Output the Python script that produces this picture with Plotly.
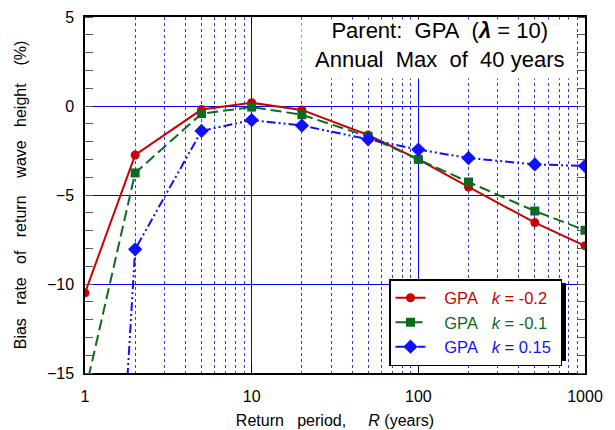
import plotly.graph_objects as go

R = [1, 2, 5, 10, 20, 50, 100, 200, 500, 1000]
red_vals = [-10.5, -2.75, -0.2, 0.18, -0.22, -1.63, -3.0, -4.55, -6.55, -7.85]
green_vals = [-16.1, -3.76, -0.43, -0.06, -0.49, -1.72, -3.0, -4.27, -5.9, -6.98]
blue_vals = [-54.7, -8.05, -1.4, -0.79, -1.1, -1.87, -2.45, -2.92, -3.28, -3.37]

x_tickvals = [1, 10, 100, 1000]
x_ticktext = ["1", "10", "100", "1000"]
x_minorvals = [m * d for d in (1, 10, 100) for m in range(2, 10)]
y_tickvals = [5, 0, -5, -10, -15]

NB = "\u00a0"
RED = "#cc0000"
GREEN = "#0b6b1e"
BLUE = "#1010ff"
GRID = "rgb(0,0,255)"


def legend_name(color, kval):
    return (f"{NB}{NB}{NB}<span style='color:{color}'>GPA{NB}{NB}{NB}<i>k</i>{NB}={NB}{kval}</span>{NB}")


fig = go.Figure()
fig.add_trace(go.Scatter(
    x=R, y=red_vals, mode="lines+markers",
    name=legend_name(RED, "-0.2"),
    line=dict(color=RED, width=2),
    marker=dict(symbol="circle", size=9, color=RED),
))
fig.add_trace(go.Scatter(
    x=R, y=green_vals, mode="lines+markers",
    name=legend_name(GREEN, "-0.1"),
    line=dict(color=GREEN, width=2, dash="11px,5px"),
    marker=dict(symbol="square", size=9, color=GREEN),
))
fig.add_trace(go.Scatter(
    x=R, y=blue_vals, mode="lines+markers",
    name=legend_name(BLUE, "0.15"),
    line=dict(color=BLUE, width=2, dash="9px,3px,2px,3px,2px,3px"),
    marker=dict(symbol="diamond", size=11, color=BLUE),
))

G4 = NB * 4
G3 = NB * 3
ytitle = (f"Bias{G3}rate{G3}of{G3}return{G4}wave{G3}height{G4}(%)" + NB * 8)

fig.update_layout(
    width=615, height=430,
    margin=dict(l=85, r=30, t=17, b=57, autoexpand=False),
    paper_bgcolor="white", plot_bgcolor="white",
    font=dict(family="Liberation Sans, Arial, sans-serif", color="black"),
    xaxis=dict(
        type="log", range=[0, 3], automargin=False,
        tickvals=x_tickvals, ticktext=x_ticktext,
        tickfont=dict(size=16), ticklabelstandoff=8,
        showgrid=True, gridcolor=GRID, gridwidth=1,
        ticks="inside", ticklen=8, tickcolor="black", tickwidth=1,
        showline=True, linecolor="black", linewidth=2, mirror="ticks",
        minor=dict(tickmode="array", tickvals=x_minorvals, showgrid=True,
                   gridcolor="rgb(40,60,255)", griddash="dot", gridwidth=1,
                   ticks=""),
        title=dict(text=f"Return{NB}{NB}{NB}period,{NB}{NB}{NB}{NB}{NB}<i>R</i>{NB}(years)",
                   font=dict(size=16), standoff=11),
        zeroline=False,
    ),
    yaxis=dict(
        range=[-15, 5], automargin=False,
        tickvals=y_tickvals,
        tickfont=dict(size=16), ticklabelstandoff=6,
        showgrid=True, gridcolor=GRID, gridwidth=1,
        ticks="",
        showline=True, linecolor="black", linewidth=1.5, mirror="ticks",
        minor=dict(dtick=1, ticks="inside", ticklen=8, tickcolor="#555",
                   tickwidth=1.2, showgrid=False),
        title=dict(text=ytitle, font=dict(size=16), standoff=16),
        zeroline=False,
    ),
    legend=dict(
        x=0.608, y=0.264, xanchor="left", yanchor="top",
        bgcolor="white", bordercolor="black", borderwidth=1.5,
        font=dict(size=16.5), tracegroupgap=0,
    ),
    showlegend=True,
)

fig.add_shape(type="rect", xref="paper", yref="paper",
              x0=0.616, x1=0.962, y0=0.034, y1=0.253,
              fillcolor="black", line=dict(width=0), layer="above")

# white background box for the title text (covers the grid)
fig.add_annotation(
    xref="paper", yref="paper", x=0.708, y=1, xanchor="center", yanchor="top",
    yshift=-1.5, text=NB, showarrow=False, font=dict(size=10),
    bgcolor="white", width=272, height=56,
)
fig.add_annotation(
    xref="paper", yref="paper", x=0.708, y=1, xanchor="center", yanchor="top",
    yshift=1,
    text=f"Parent:{NB}{NB}GPA{NB}{NB}(<b><i>λ</i></b>{NB}={NB}10)<br>Annual{NB}{NB}Max{NB}{NB}of{NB}{NB}40{NB}years",
    showarrow=False, font=dict(size=22),
)

fig.write_html("out.html")
